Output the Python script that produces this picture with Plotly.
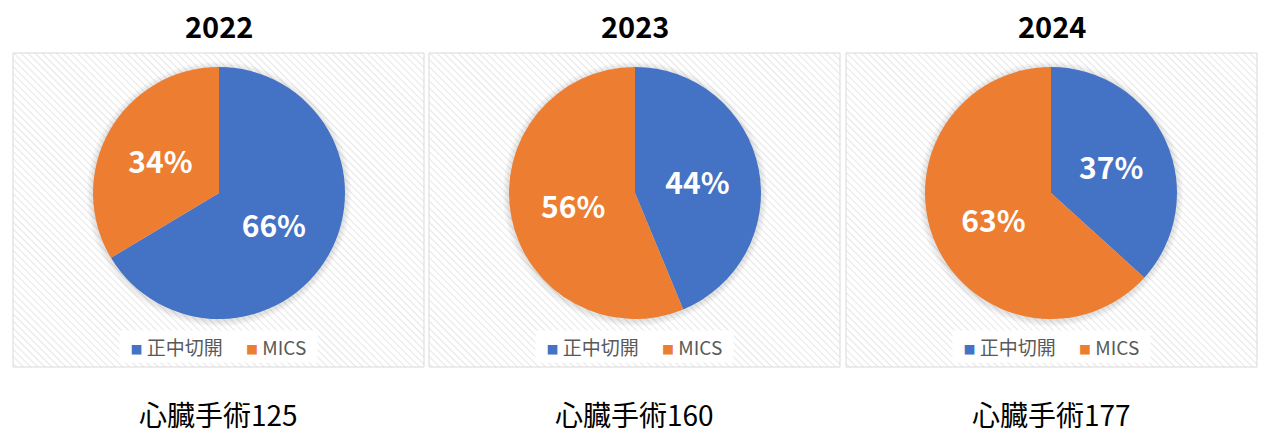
import base64
import plotly.graph_objects as go

anios = ['2022', '2023', '2024']
etiquetas = ['正中切開', 'MICS']
valores = [[83, 42], [70, 90], [65, 112]]
totales = ['心臓手術125', '心臓手術160', '心臓手術177']
colores = ['#4472c4', '#ed7d31']

W, H = 1273, 444
paneles_x = [13, 429, 846]
panel_w, panel_t, panel_b = 411, 53, 367
centros = [219, 635, 1051]
radio = 126
cy = 193

# fondo rayado como en Excel
svg = ('<svg xmlns="http://www.w3.org/2000/svg" width="%d" height="%d">'
       '<defs><pattern id="p" width="5" height="5" patternUnits="userSpaceOnUse" '
       'patternTransform="rotate(-45)"><rect width="5" height="5" fill="white"/>'
       '<line x1="0" y1="0" x2="0" y2="5" stroke="#e6e6e6" stroke-width="2"/></pattern></defs>'
       '<rect width="100%%" height="100%%" fill="url(#p)"/></svg>') % (panel_w, panel_b - panel_t)
fondo = 'data:image/svg+xml;base64,' + base64.b64encode(svg.encode()).decode()

fuente = 'Noto Sans CJK JP'
fig = go.Figure()
imagenes = []
formas = []
anotaciones = []

for i in range(len(anios)):
    x0 = paneles_x[i]
    xc = (x0 + panel_w / 2) / W
    fig.add_trace(go.Pie(
        labels=etiquetas,
        values=valores[i],
        sort=False,
        direction='clockwise',
        rotation=0,
        marker={'colors': colores, 'line': {'color': 'white', 'width': 0}},
        texttemplate='%{percent:.0%}',
        textposition='inside',
        insidetextorientation='horizontal',
        textfont={'color': 'white', 'size': 30, 'family': fuente, 'weight': 'bold'},
        domain={'x': [(centros[i] - radio) / W, (centros[i] + radio) / W],
                'y': [1 - (cy + radio) / H, 1 - (cy - radio) / H]},
        showlegend=False,
        hoverinfo='label+value+percent'
    ))
    imagenes.append(dict(source=fondo, xref='paper', yref='paper', x=x0 / W, y=1 - panel_t / H,
                         sizex=panel_w / W, sizey=(panel_b - panel_t) / H, sizing='stretch',
                         xanchor='left', yanchor='top', layer='below'))
    formas.append(dict(type='rect', xref='paper', yref='paper', x0=x0 / W, x1=(x0 + panel_w) / W,
                       y0=1 - panel_b / H, y1=1 - panel_t / H, line={'color': '#d9d9d9', 'width': 1}))
    # sombra suave alrededor del pastel
    for extra in [6, 4, 2]:
        r = radio + extra
        formas.append(dict(type='circle', xref='paper', yref='paper', layer='below',
                           x0=(centros[i] - r) / W, x1=(centros[i] + r) / W,
                           y0=1 - (cy + r + 1) / H, y1=1 - (cy - r + 1) / H,
                           fillcolor='rgba(0,0,0,0.035)', line={'width': 0}))
    anotaciones.append(dict(text='<b>' + anios[i] + '</b>', x=xc, y=1 - 25 / H,
                            xref='paper', yref='paper', showarrow=False,
                            xanchor='center', yanchor='middle',
                            font={'size': 29, 'color': 'black', 'family': fuente}))
    anotaciones.append(dict(text=totales[i], x=xc, y=1 - 414 / H,
                            xref='paper', yref='paper', showarrow=False,
                            xanchor='center', yanchor='middle',
                            font={'size': 28, 'color': 'black', 'family': fuente}))
    leyenda = ('  <span style="color:%s;font-size:12px">■</span> %s　 '
               '<span style="color:%s;font-size:12px">■</span> %s  ') % (colores[0], etiquetas[0],
                                                                       colores[1], etiquetas[1])
    anotaciones.append(dict(text=leyenda, x=xc, y=1 - 346 / H,
                            xref='paper', yref='paper', showarrow=False,
                            xanchor='center', yanchor='middle', bgcolor='white', borderpad=2,
                            font={'size': 19, 'color': '#595959', 'family': fuente}))

fig.update_layout(
    width=W, height=H,
    margin={'l': 0, 't': 0, 'b': 0, 'r': 0},
    paper_bgcolor='white',
    images=imagenes,
    shapes=formas,
    annotations=anotaciones,
    showlegend=False
)

fig.write_html('out.html', config={'displayModeBar': False},
               post_script="document.body.style.margin='0';")
